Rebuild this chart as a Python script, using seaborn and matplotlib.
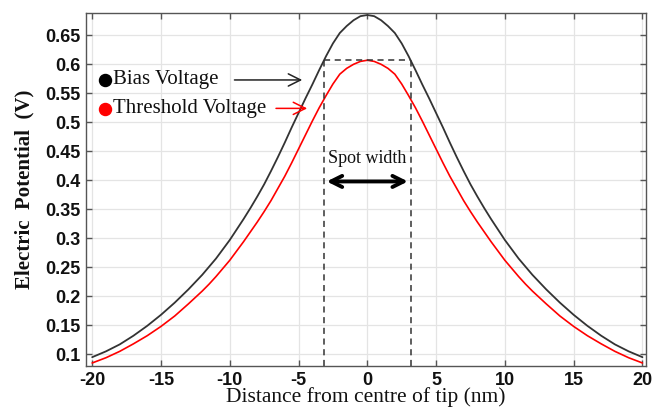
import numpy as np
import pandas as pd
import seaborn as sns
import matplotlib
matplotlib.use("Agg")
import matplotlib.pyplot as plt

# distance from tip centre (nm), right half; curves are mirrored about 0
distance_half = [0, 0.5, 1, 1.5, 2, 2.5, 3, 3.5, 4, 4.5, 5, 5.5, 6, 6.5, 7, 7.5, 8, 8.5,
                 9, 9.5, 10, 10.5, 11, 11.5, 12, 13, 14, 15, 16, 17, 18, 19, 20]

# bias voltage (V) read at those distances
bias_half = [0.685, 0.683, 0.676, 0.666, 0.654, 0.636, 0.614, 0.590, 0.565, 0.541,
             0.516, 0.491, 0.465, 0.440, 0.416, 0.393, 0.372, 0.352, 0.333, 0.315,
             0.297, 0.281, 0.265, 0.251, 0.237, 0.212, 0.189, 0.168, 0.149, 0.132,
             0.117, 0.105, 0.095]

# threshold voltage (V) read at those distances
threshold_half = [0.607, 0.605, 0.600, 0.593, 0.583, 0.566, 0.546, 0.525, 0.502, 0.478,
                  0.454, 0.430, 0.407, 0.386, 0.365, 0.346, 0.328, 0.311, 0.294, 0.278,
                  0.262, 0.248, 0.234, 0.221, 0.209, 0.187, 0.166, 0.148, 0.132, 0.118,
                  0.105, 0.094, 0.085]

spot_edge = 3.15      # nm, where bias curve meets threshold peak
spot_level = 0.607

x = [-d for d in distance_half[:0:-1]] + distance_half
df = pd.DataFrame({
    "x": x,
    "bias": bias_half[:0:-1] + bias_half,
    "threshold": threshold_half[:0:-1] + threshold_half,
})

sns.set_style("whitegrid")
plt.rcParams["axes.unicode_minus"] = False

fig = plt.figure(figsize=(6.54, 4.12), dpi=100)
ax = fig.add_axes([0.1315, 0.1117, 0.8565, 0.8568])

sns.lineplot(data=df, x="x", y="bias", color="#333333", linewidth=1.3, ax=ax)
sns.lineplot(data=df, x="x", y="threshold", color="#ff0000", linewidth=1.2, ax=ax)

ax.set_xlim(-20.45, 20.27)
ax.set_ylim(0.0798, 0.6885)
yt = np.round(np.arange(0.1, 0.66, 0.05), 2)
ax.set_xticks(np.arange(-20, 21, 5))
ax.set_yticks(yt)
ax.set_yticklabels([f"{v:g}" for v in yt])

ax.grid(True, color="#e4e4e4", linewidth=0.9)
for s in ax.spines.values():
    s.set_color("#555555")
    s.set_linewidth(1.0)
ax.tick_params(direction="in", length=4, width=1, color="#555555",
               top=True, right=True, bottom=True, left=True, pad=4)
for lab in ax.get_xticklabels() + ax.get_yticklabels():
    lab.set_fontfamily("Liberation Sans")
    lab.set_fontweight("bold")
    lab.set_fontsize(13)
    lab.set_color("#111111")

ax.set_xlabel("Distance from centre of tip (nm)", family="Liberation Serif",
              fontsize=15.5, color="#111111", labelpad=-1)
ax.set_ylabel("Electric  Potential  (V)", family="Liberation Serif", fontweight="bold",
              fontsize=15, color="#111111", labelpad=8)

# spot width box
ylo = ax.get_ylim()[0]
dash = dict(color="#333333", linewidth=1.1, linestyle=(0, (4, 3)))
ax.plot([-spot_edge, -spot_edge], [ylo, spot_level], **dash)
ax.plot([spot_edge, spot_edge], [ylo, spot_level], **dash)
ax.plot([-spot_edge, spot_edge], [spot_level, spot_level], **dash)

# labels with dots
ax.scatter([-19.08], [0.573], s=75, color="black", zorder=5, clip_on=False)
ax.scatter([-19.08], [0.523], s=75, color="#ff0000", zorder=5, clip_on=False)
ax.text(-18.5, 0.573, "Bias Voltage", family="Liberation Serif", fontsize=15,
        va="center", ha="left", color="#111111")
ax.text(-18.5, 0.523, "Threshold Voltage", family="Liberation Serif", fontsize=15,
        va="center", ha="left", color="#111111")

ax.annotate("", xy=(-4.53, 0.573), xytext=(-9.86, 0.573),
            arrowprops=dict(arrowstyle="->", color="#222222", lw=1.1, mutation_scale=22))
ax.annotate("", xy=(-4.17, 0.524), xytext=(-6.84, 0.524),
            arrowprops=dict(arrowstyle="->", color="#ff0000", lw=1.1, mutation_scale=22))

ax.text(0, 0.438, "Spot width", family="Liberation Serif", fontsize=13,
        ha="center", va="center", color="#111111")
ax.annotate("", xy=(2.95, 0.398), xytext=(-2.95, 0.398),
            arrowprops=dict(arrowstyle="<->", color="black", lw=2.8, mutation_scale=20,
                            shrinkA=0, shrinkB=0))

fig.savefig("out.png", dpi=100)
